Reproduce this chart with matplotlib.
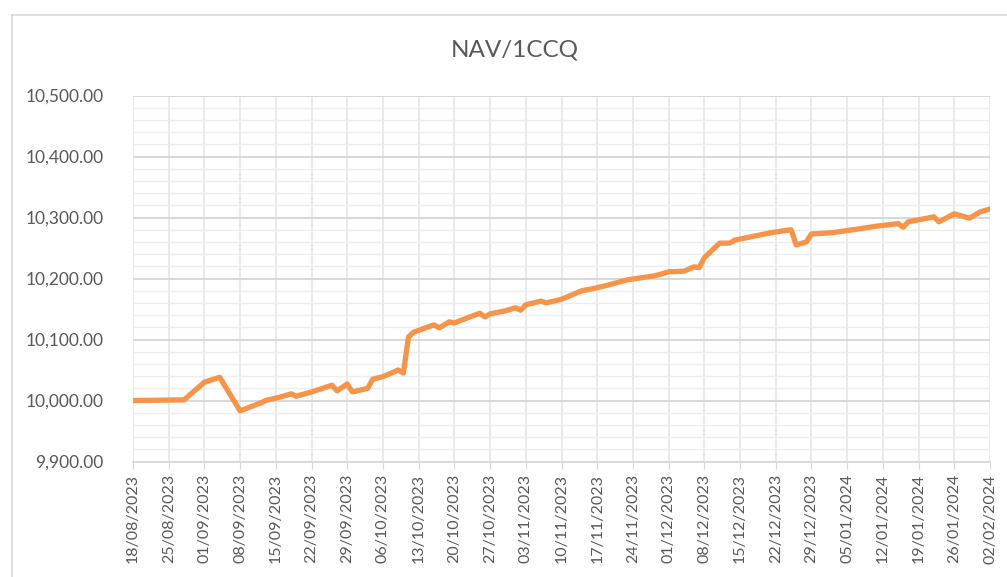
import matplotlib
matplotlib.use("Agg")
import matplotlib.pyplot as plt
import matplotlib.dates as mdates
from matplotlib.ticker import MultipleLocator, FuncFormatter
from matplotlib.lines import Line2D
import pandas as pd

title = "NAV/1CCQ"
dates = ["2023-08-18", "2023-08-28", "2023-09-01", "2023-09-04", "2023-09-08", "2023-09-12",
         "2023-09-13", "2023-09-16", "2023-09-18", "2023-09-19", "2023-09-22", "2023-09-26",
         "2023-09-27", "2023-09-29", "2023-09-30", "2023-10-03", "2023-10-04", "2023-10-06",
         "2023-10-09", "2023-10-10", "2023-10-11", "2023-10-12", "2023-10-16", "2023-10-17",
         "2023-10-19", "2023-10-20", "2023-10-23", "2023-10-25", "2023-10-26", "2023-10-27",
         "2023-10-30", "2023-11-01", "2023-11-02", "2023-11-03", "2023-11-06", "2023-11-07",
         "2023-11-10", "2023-11-12", "2023-11-14", "2023-11-16", "2023-11-19", "2023-11-23",
         "2023-11-28", "2023-11-29", "2023-12-01", "2023-12-04", "2023-12-06", "2023-12-07",
         "2023-12-08", "2023-12-11", "2023-12-13", "2023-12-14", "2023-12-21", "2023-12-25",
         "2023-12-26", "2023-12-28", "2023-12-29", "2024-01-02", "2024-01-07", "2024-01-11",
         "2024-01-15", "2024-01-16", "2024-01-17", "2024-01-22", "2024-01-23", "2024-01-26",
         "2024-01-29", "2024-01-31", "2024-02-02"]
nav = [10000, 10001, 10030, 10038, 9983, 9996,
       10000, 10006, 10011, 10007, 10014, 10025,
       10016, 10027, 10014, 10020, 10035, 10039,
       10050, 10045, 10104, 10112, 10124, 10119,
       10129, 10127, 10137, 10143, 10137, 10142,
       10147, 10152, 10148, 10157, 10163, 10160,
       10166, 10173, 10180, 10183, 10189, 10198,
       10204, 10206, 10211, 10212, 10219, 10218,
       10234, 10258, 10258, 10263, 10275, 10280,
       10255, 10260, 10273, 10275, 10281, 10286,
       10290, 10284, 10293, 10301, 10293, 10306,
       10299, 10309, 10314]
x_start = "2023-08-18"
x_end = "2024-02-02"
y_min, y_max = 9900, 10500

W, H = 1007, 577
fig = plt.figure(figsize=(W / 100, H / 100), dpi=100)
fig.patch.set_facecolor("white")
plt.rcParams['font.family'] = ['Lato', 'DejaVu Sans']

# chart border
fig.add_artist(Line2D([12 / W, 1], [1 - 15 / H, 1 - 15 / H], transform=fig.transFigure,
                      color="#D9D9D9", lw=1.2))
fig.add_artist(Line2D([12 / W, 12 / W], [0, 1 - 15 / H], transform=fig.transFigure,
                      color="#D9D9D9", lw=1.2))

ax = fig.add_axes([133 / W, 1 - 461.5 / H, (990 - 133) / W, (461.5 - 95.5) / H])
x = pd.to_datetime(dates)
ax.plot(x, nav, color="#F6944A", lw=3.8, solid_joinstyle="round", solid_capstyle="round", zorder=3)

ax.set_xlim(pd.Timestamp(x_start), pd.Timestamp(x_end))
ax.set_ylim(y_min, y_max)
ax.yaxis.set_major_locator(MultipleLocator(100))
ax.yaxis.set_minor_locator(MultipleLocator(20))
ax.yaxis.set_major_formatter(FuncFormatter(lambda v, p: f"{v:,.2f}"))
ax.set_xticks(pd.date_range(x_start, x_end, freq="7D"))
ax.xaxis.set_major_formatter(mdates.DateFormatter("%d/%m/%Y"))

ax.grid(axis="y", which="major", color="#D6D6D6", lw=1.3, zorder=1)
ax.grid(axis="y", which="minor", color="#EDEDED", lw=1.0, zorder=0)
ax.grid(axis="x", which="major", color="#E8E8E8", lw=1.3, zorder=0)

for s in ["top", "right", "left"]:
    ax.spines[s].set_visible(False)
ax.spines["bottom"].set_color("#D9D9D9")
ax.spines["bottom"].set_linewidth(1.3)

ax.tick_params(axis="y", which="both", length=0, pad=21, labelsize=12.5, labelcolor="#595959")
ax.tick_params(axis="x", which="major", length=5, color="#D9D9D9", pad=4,
               labelsize=11.5, labelcolor="#595959", labelrotation=90)

fig.text(515 / W, 1 - 50 / H, title, ha="center", va="center", fontsize=17.5, color="#595959")

fig.savefig("out.png", dpi=100)
